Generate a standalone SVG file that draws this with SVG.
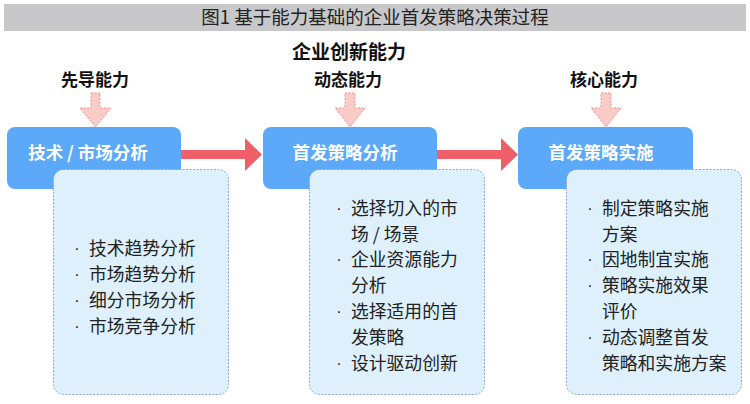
<svg xmlns="http://www.w3.org/2000/svg" width="750" height="404" viewBox="0 0 750 404">
<style>
text{font-family:"Noto Sans CJK SC","Liberation Sans",sans-serif;}
.title{font-size:18.5px;fill:#222;}
.cap{font-size:17px;font-weight:bold;fill:#111;}
.top{font-size:19px;font-weight:bold;fill:#111;}
.box{fill:#5ca9f9;}
.lbl{font-size:17.5px;font-weight:bold;fill:#fff;}
.det{fill:#ddf0fb;stroke:#8aa4cf;stroke-width:1;stroke-dasharray:2,1.5;}
.item{font-size:17.8px;fill:#222;}
.bul{font-family:"Liberation Sans",sans-serif;font-size:16px;fill:#222;text-anchor:middle;}
.pink{fill:#f9ccc7;stroke:#ef8f8f;stroke-width:1;stroke-dasharray:2,1.5;}
.red{fill:#ef5f69;}
</style>
<rect x="4" y="4" width="742" height="27" fill="#c8c8ca"/>
<text class="title" x="375" y="24" text-anchor="middle">图1 基于能力基础的企业首发策略决策过程</text>
<text class="top" x="349" y="59" text-anchor="middle">企业创新能力</text>
<g id="connectors">
<polygon class="red" points="175,150 245,150 245,138 262,154.5 245,171 245,159 175,159"/>
<polygon class="red" points="430,150 501,150 501,138 518,154.5 501,171 501,159 430,159"/>
<polygon class="pink" points="91,93 100,93 100,108 111,108 95.5,127 80,108 91,108"/>
<polygon class="pink" points="345,93 355,93 355,108 365,108 350,127 335,108 345,108"/>
<polygon class="pink" points="601,93 611,93 611,108 621,108 606,127 591,108 601,108"/>
</g>
<g id="cap1"><text class="cap" x="95" y="86" text-anchor="middle">先导能力</text></g>
<g id="cap2"><text class="cap" x="348" y="86" text-anchor="middle">动态能力</text></g>
<g id="cap3"><text class="cap" x="604" y="86" text-anchor="middle">核心能力</text></g>
<g id="node1">
<rect class="box" x="7" y="127" width="174" height="62" rx="8"/>
<text class="lbl" x="88" y="159" text-anchor="middle">技术 / 市场分析</text>
</g>
<g id="node2">
<rect class="box" x="263" y="127" width="174" height="62" rx="8"/>
<text class="lbl" x="345" y="159" text-anchor="middle">首发策略分析</text>
</g>
<g id="node3">
<rect class="box" x="518" y="127" width="175" height="62" rx="8"/>
<text class="lbl" x="601" y="159" text-anchor="middle">首发策略实施</text>
</g>
<g id="detail1">
<rect class="det" x="53.5" y="169.5" width="175" height="225" rx="10"/>
<text class="bul" x="77" y="254">·</text><text class="item" x="89" y="255">技术趋势分析</text>
<text class="bul" x="77" y="280">·</text><text class="item" x="89" y="281">市场趋势分析</text>
<text class="bul" x="77" y="306">·</text><text class="item" x="89" y="307">细分市场分析</text>
<text class="bul" x="77" y="332">·</text><text class="item" x="89" y="333">市场竞争分析</text>
</g>
<g id="detail2">
<rect class="det" x="309.5" y="169.5" width="175" height="225" rx="10"/>
<text class="bul" x="339" y="214">·</text><text class="item" x="351" y="215">选择切入的市</text>
<text class="item" x="351" y="241">场 / 场景</text>
<text class="bul" x="339" y="265">·</text><text class="item" x="351" y="266">企业资源能力</text>
<text class="item" x="351" y="292">分析</text>
<text class="bul" x="339" y="317">·</text><text class="item" x="351" y="318">选择适用的首</text>
<text class="item" x="351" y="344">发策略</text>
<text class="bul" x="339" y="369">·</text><text class="item" x="351" y="370">设计驱动创新</text>
</g>
<g id="detail3">
<rect class="det" x="566.5" y="169.5" width="175" height="225" rx="10"/>
<text class="bul" x="590" y="214">·</text><text class="item" x="602" y="215">制定策略实施</text>
<text class="item" x="602" y="241">方案</text>
<text class="bul" x="590" y="265">·</text><text class="item" x="602" y="266">因地制宜实施</text>
<text class="bul" x="590" y="291">·</text><text class="item" x="602" y="292">策略实施效果</text>
<text class="item" x="602" y="318">评价</text>
<text class="bul" x="590" y="343">·</text><text class="item" x="602" y="344">动态调整首发</text>
<text class="item" x="602" y="370">策略和实施方案</text>
</g>
</svg>
